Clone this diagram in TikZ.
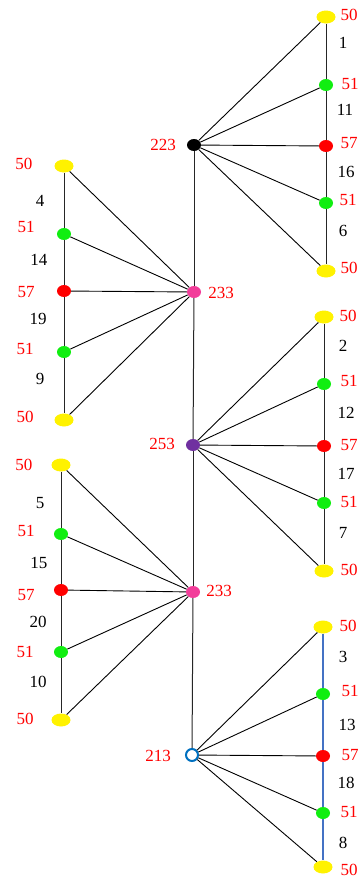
\documentclass[tikz,border=0pt]{standalone}
\usepackage{fontspec}
\setmainfont{Liberation Serif}
\usetikzlibrary{shapes.geometric}
\definecolor{cyel}{HTML}{FFF200}
\definecolor{cgrn}{HTML}{11EE11}
\definecolor{cred}{HTML}{FF0000}
\definecolor{cpink}{HTML}{F23D9A}
\definecolor{cpur}{HTML}{7030A0}
\definecolor{cblue}{HTML}{0070C0}
\definecolor{cline}{HTML}{4472C4}
\begin{document}
\begin{tikzpicture}[x=1pt,y=-1pt,
  dot/.style={ellipse,inner sep=0pt,minimum width=14pt,minimum height=12pt,draw=none},
  yel/.style={dot,fill=cyel,minimum width=19pt,minimum height=13pt},
  grn/.style={dot,fill=cgrn},
  rd/.style={dot,fill=cred},
  blk/.style={dot,fill=black},
  pnk/.style={dot,fill=cpink},
  pur/.style={dot,fill=cpur},
  opn/.style={circle,inner sep=0pt,minimum size=12pt,draw=cblue,line width=2pt,fill=white},
  val/.style={text=cred,font=\fontsize{17}{20}\selectfont,inner sep=0pt},
  num/.style={text=black,font=\fontsize{17}{20}\selectfont,inner sep=0pt},
  edge/.style={draw=black,line width=0.9pt},
  spine/.style={draw=black!85,line width=1pt},
  bline/.style={draw=cline,line width=2.4pt}]
\useasboundingbox (0,0) rectangle (360,879);
% hubs
\node[blk] (h1) at (194,145) {};
\node[pnk] (h2) at (194,292) {};
\node[pur] (h3) at (193,445) {};
\node[pnk] (h4) at (193,592) {};
\node[opn] (h5) at (192,755) {};
% group A (top right)
\node[yel] (a1) at (326,17) {};
\node[grn] (a2) at (326,85) {};
\node[rd]  (a3) at (326,146) {};
\node[grn] (a4) at (326,203) {};
\node[yel] (a5) at (326,271) {};
% group B (middle right)
\node[yel] (b1) at (324,317) {};
\node[grn] (b2) at (324,384) {};
\node[rd]  (b3) at (324,446) {};
\node[grn] (b4) at (324,503) {};
\node[yel] (b5) at (324,571) {};
% group C (bottom right)
\node[yel] (c1) at (323,627) {};
\node[grn] (c2) at (323,694) {};
\node[rd]  (c3) at (323,756) {};
\node[grn] (c4) at (323,813) {};
\node[yel] (c5) at (323,867) {};
% group L1 (upper left)
\node[yel] (l1) at (64,166) {};
\node[grn] (l2) at (64,234) {};
\node[rd]  (l3) at (64,291) {};
\node[grn] (l4) at (64,352) {};
\node[yel] (l5) at (64,420) {};
% group L2 (lower left)
\node[yel] (m1) at (61,465) {};
\node[grn] (m2) at (61,534) {};
\node[rd]  (m3) at (61,590) {};
\node[grn] (m4) at (61,652) {};
\node[yel] (m5) at (61,720) {};
% spine
\draw[spine] (h1) -- (h2);
\draw[spine] (h2) -- (h3);
\draw[spine] (h3) -- (h4);
\draw[spine] (h4) -- (h5);
% spokes and chains
\foreach \h/\g in {h1/a,h3/b,h5/c,h2/l,h4/m}{
  \foreach \i in {1,...,5}{\draw[edge] (\h) -- (\g\i);}
}
\foreach \g in {a,b,l,m}{
  \draw[spine] (\g1) -- (\g2);
  \draw[spine] (\g2) -- (\g3);
  \draw[spine] (\g3) -- (\g4);
  \draw[spine] (\g4) -- (\g5);
}
\draw[bline] (c1) -- (c2);
\draw[bline] (c2) -- (c3);
\draw[bline] (c3) -- (c4);
\draw[bline] (c4) -- (c5);
% hub labels
\node[val] (h1v) at (163,145) {223};
\node[val] (h2v) at (221,293) {233};
\node[val] (h3v) at (162,444) {253};
\node[val] (h4v) at (219,591) {233};
\node[val] (h5v) at (158,756) {213};
% group A labels
\node[val] (a1v) at (349,15) {50};
\node[val] (a2v) at (350,84) {51};
\node[val] (a3v) at (349,143) {57};
\node[val] (a4v) at (348,200) {51};
\node[val] (a5v) at (349,268) {50};
\node[num] (a12) at (343,43) {1};
\node[num] (a23) at (345,110) {11};
\node[num] (a34) at (346,172) {16};
\node[num] (a45) at (343,231) {6};
% group B labels
\node[val] (b1v) at (348,316) {50};
\node[val] (b2v) at (349,381) {51};
\node[val] (b3v) at (349,445) {57};
\node[val] (b4v) at (349,502) {51};
\node[val] (b5v) at (349,570) {50};
\node[num] (b12) at (343,346) {2};
\node[num] (b23) at (346,413) {12};
\node[num] (b34) at (346,474) {17};
\node[num] (b45) at (343,533) {7};
% group C labels
\node[val] (c1v) at (348,626) {50};
\node[val] (c2v) at (350,691) {51};
\node[val] (c3v) at (350,755) {57};
\node[val] (c4v) at (349,812) {51};
\node[val] (c5v) at (349,870) {50};
\node[num] (c12) at (343,657) {3};
\node[num] (c23) at (347,725) {13};
\node[num] (c34) at (346,783) {18};
\node[num] (c45) at (343,843) {8};
% group L1 labels
\node[val] (l1v) at (24,164) {50};
\node[val] (l2v) at (26,227) {51};
\node[val] (l3v) at (26,292) {57};
\node[val] (l4v) at (25,349) {51};
\node[val] (l5v) at (25,417) {50};
\node[num] (l12) at (40,201) {4};
\node[num] (l23) at (39,260) {14};
\node[num] (l34) at (38,319) {19};
\node[num] (l45) at (40,379) {9};
% group L2 labels
\node[val] (m1v) at (24,465) {50};
\node[val] (m2v) at (26,531) {51};
\node[val] (m3v) at (26,595) {57};
\node[val] (m4v) at (25,652) {51};
\node[val] (m5v) at (25,719) {50};
\node[num] (m12) at (40,503) {5};
\node[num] (m23) at (39,563) {15};
\node[num] (m34) at (38,622) {20};
\node[num] (m45) at (38,682) {10};
\end{tikzpicture}
\end{document}
